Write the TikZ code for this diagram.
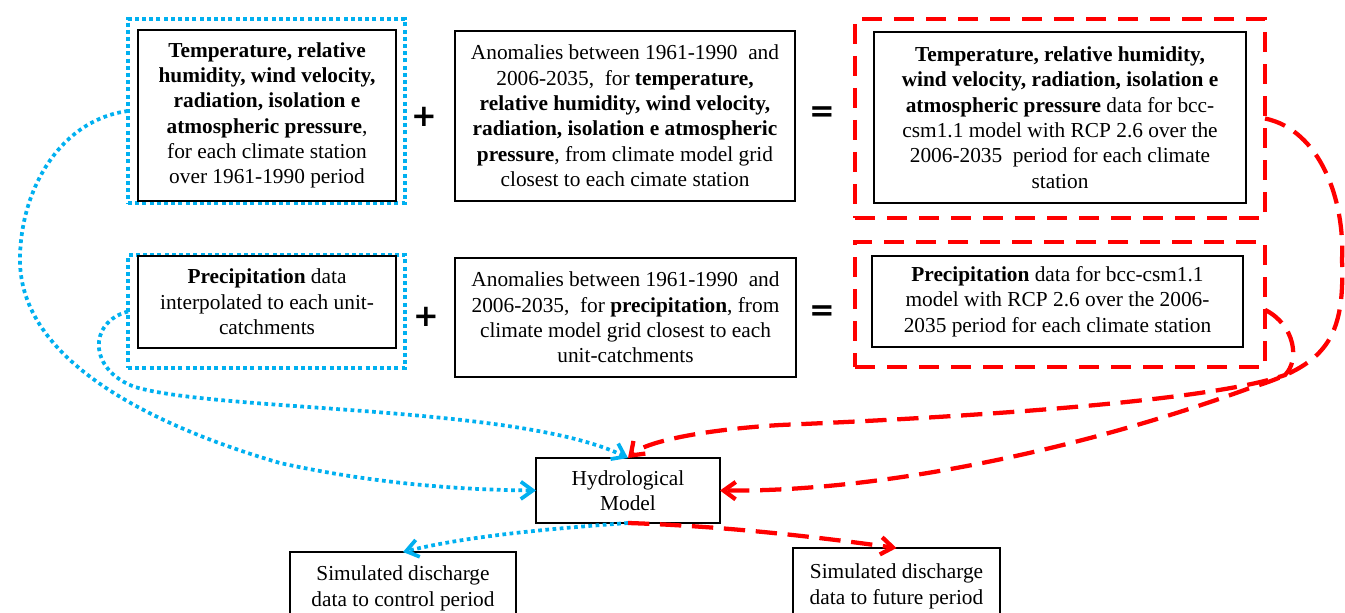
\documentclass[tikz,border=0pt]{standalone}
\usepackage{fontspec}
\setmainfont{Liberation Serif}
\newfontfamily\symfont{DejaVu Sans}
\usetikzlibrary{arrows.meta,calc}
\definecolor{cblue}{RGB}{0,176,240}
\definecolor{cred}{RGB}{255,0,0}
\begin{document}
\begin{tikzpicture}[x=0.75pt,y=-0.75pt,
  txt/.style={font=\fontsize{16}{19}\selectfont, align=center},
  inbox/.style={draw=black, line width=1.2pt, inner sep=0pt, outer sep=0pt, fill=white, txt},
  bluebox/.style={draw=cblue, line width=3pt, dash pattern=on 3pt off 2.4pt, inner sep=0pt, outer sep=0pt},
  redbox/.style={draw=cred, line width=3pt, dash pattern=on 15pt off 9pt, inner sep=0pt, outer sep=0pt},
  bluecon/.style={draw=cblue, line width=2.8pt, dash pattern=on 2.8pt off 2.6pt, -{Straight Barb[length=9pt,width=13pt]}},
  redcon/.style={draw=cred, line width=3.2pt, dash pattern=on 16pt off 8pt, -{Straight Barb[length=9pt,width=13pt]}},
  op/.style={font=\symfont\bfseries\fontsize{23}{23}\selectfont, inner sep=0pt}]
\clip (0,0) rectangle (1345,613);
\fill[white] (0,0) rectangle (1345,613);

% outer frames
\node[bluebox, minimum width=207.75pt, minimum height=138pt] (b1o) at (266.5,111) {};
\node[bluebox, minimum width=207.75pt, minimum height=84.75pt] (b4o) at (266.5,311.5) {};
\node[redbox, minimum width=307.5pt, minimum height=149.25pt] (b3o) at (1060,118.5) {};
\node[redbox, minimum width=307.5pt, minimum height=93.75pt] (b6o) at (1060,304.5) {};

% inner boxes
\node[inbox, minimum width=193.5pt, minimum height=128.25pt] (b1) at (267,115.5)
 {\textbf{Temperature, relative}\\ \textbf{humidity, wind velocity,}\\ \textbf{radiation, isolation e}\\ \textbf{atmospheric pressure},\\ for each climate station\\ over 1961-1990 period};
\node[inbox, minimum width=255pt, minimum height=127.5pt] (b2) at (625,116)
 {Anomalies between 1961-1990\ \ and\\ 2006-2035,\ \ for \textbf{temperature,}\\ \textbf{relative humidity, wind velocity,}\\ \textbf{radiation, isolation e atmospheric}\\ \textbf{pressure}, from climate model grid\\ closest to each cimate station};
\node[inbox, minimum width=279pt, minimum height=128.25pt] (b3) at (1060,117.5)
 {\textbf{Temperature, relative humidity,}\\ \textbf{wind velocity, radiation, isolation e}\\ \textbf{atmospheric pressure} data for bcc-\\ csm1.1 model with RCP 2.6 over the\\ 2006-2035\ \ period for each climate\\ station};
\node[inbox, minimum width=193.5pt, minimum height=69pt] (b4) at (267,302)
 {\textbf{Precipitation} data\\ interpolated to each unit-\\ catchments};
\node[inbox, minimum width=255.75pt, minimum height=89.25pt] (b5) at (625.5,317.5)
 {Anomalies between 1961-1990\ \ and\\ 2006-2035,\ \ for \textbf{precipitation}, from\\ climate model grid closest to each\\ unit-catchments};
\node[inbox, minimum width=278.25pt, minimum height=68.25pt] (b6) at (1057.5,301.5)
 {\textbf{Precipitation} data for bcc-csm1.1\\ model with RCP 2.6 over the 2006-\\ 2035 period for each climate station};

\node[inbox, minimum width=138pt, minimum height=48.75pt] (hm) at (628,490.5) {Hydrological\\ Model};
\node[inbox, minimum width=169.5pt, minimum height=54.75pt] (simc) at (403,588.5) {Simulated discharge\\ data to control period};
\node[inbox, minimum width=155.25pt, minimum height=57.75pt] (simf) at (896.5,586.5) {Simulated discharge\\ data to future period};

% operators
\node[op] (p1) at (424,117) {+};
\node[op] (e1) at (822,114) {=};
\node[op] (p2) at (426,317) {+};
\node[op] (e2) at (822,313) {=};

% blue connectors
\draw[bluecon] (b1o.west) .. controls (60,120) and (20,190) .. (20,260)
  .. controls (20,360) and (150,425) .. (280,463)
  .. controls (380,485) and (470,490) .. (hm.west);
\draw[bluecon] (b4o.west) .. controls (88,322) and (88,370) .. (135,387)
  .. controls (220,412) and (520,405) .. (hm.north);
\draw[bluecon] (hm.south) .. controls (530,530) and (460,538) .. (simc.north);

% red connectors
\draw[redcon] (b3o.east) .. controls (1320,130) and (1345,200) .. (1342,260)
  .. controls (1345,340) and (1325,365) .. (1250,388)
  .. controls (1080,450) and (880,492) .. (hm.east);
\draw[redcon] ([yshift=-4pt]b6o.east) .. controls (1295,325) and (1300,360) .. (1285,375)
  .. controls (1200,405) and (900,420) .. (780,425)
  .. controls (700,430) and (645,442) .. (hm.north);
\draw[redcon] (hm.south) .. controls (720,526) and (810,536) .. (simf.north);
\end{tikzpicture}
\end{document}
